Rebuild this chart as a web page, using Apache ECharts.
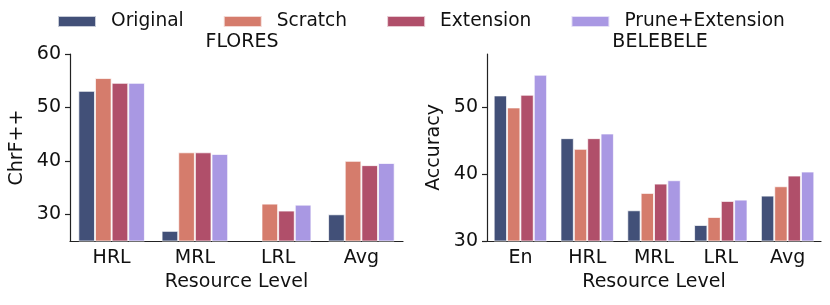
<!DOCTYPE html>
<html><head><meta charset="utf-8">
<script src="https://cdn.jsdelivr.net/npm/echarts@6/dist/echarts.min.js"></script>
<style>html,body{margin:0;padding:0;background:#fff}#c{width:830px;height:305px}</style>
</head><body><div id="c"></div>
<script>
const seriesNames = ['Original', 'Scratch', 'Extension', 'Prune+Extension'];
const colors = ['#425078', '#d57c6c', '#b04f6a', '#a998e3'];

const floresCategories = ['HRL', 'MRL', 'LRL', 'Avg'];
const floresOriginal = [53.1, 26.9, null, 30.0];
const floresScratch = [55.5, 41.6, 32.0, 40.0];
const floresExtension = [54.6, 41.6, 30.7, 39.2];
const floresPrune = [54.6, 41.3, 31.8, 39.6];
const floresTicks = [30, 40, 50, 60];

const beleCategories = ['En', 'HRL', 'MRL', 'LRL', 'Avg'];
const beleOriginal = [51.8, 45.4, 34.6, 32.4, 36.8];
const beleScratch = [50.0, 43.8, 37.2, 33.6, 38.2];
const beleExtension = [51.9, 45.4, 38.6, 36.0, 39.8];
const belePrune = [54.9, 46.1, 39.1, 36.2, 40.4];
const beleTicks = [30, 40, 50];

const floresData = [floresOriginal, floresScratch, floresExtension, floresPrune];
const beleData = [beleOriginal, beleScratch, beleExtension, belePrune];

const FONT = 'DejaVu Sans';
const FS = 19;
const axisLineStyle = {color: '#222', width: 1.2};

function xAxis(gi, cats) {
  return {
    type: 'category', gridIndex: gi, data: cats,
    name: 'Resource Level', nameLocation: 'middle', nameGap: 30,
    nameTextStyle: {fontFamily: FONT, fontSize: FS, color: '#111'},
    axisLine: {lineStyle: axisLineStyle},
    axisTick: {alignWithLabel: true, length: 5, lineStyle: axisLineStyle},
    axisLabel: {fontFamily: FONT, fontSize: FS, color: '#111', margin: 8}
  };
}
function yAxis(gi, name, min, max, ticks) {
  return {
    type: 'value', gridIndex: gi, min: min, max: max,
    name: name, nameLocation: 'middle', nameGap: 43,
    nameTextStyle: {fontFamily: FONT, fontSize: FS, color: '#111'},
    axisLine: {show: true, lineStyle: axisLineStyle},
    axisTick: {show: true, length: 5, lineStyle: axisLineStyle, customValues: ticks},
    axisLabel: {fontFamily: FONT, fontSize: FS, color: '#111', margin: 9, customValues: ticks},
    splitLine: {show: false}
  };
}

const series = [];
[floresData, beleData].forEach((set, gi) => {
  set.forEach((vals, i) => {
    series.push({
      type: 'bar', name: seriesNames[i], xAxisIndex: gi, yAxisIndex: gi,
      data: vals, barGap: '0%', barCategoryGap: '20%',
      itemStyle: {color: colors[i], borderColor: 'rgba(255,255,255,0.7)', borderWidth: 1},
      emphasis: {disabled: true}
    });
  });
});

const chart = echarts.init(document.getElementById('c'), null, {renderer: 'canvas'});
chart.setOption({
  animation: false,
  backgroundColor: '#fff',
  textStyle: {fontFamily: FONT},
  legend: {
    data: seriesNames, left: 52, top: 7, icon: 'rect',
    itemWidth: 38, itemHeight: 11, itemGap: 39,
    textStyle: {fontFamily: FONT, fontSize: 18.6, color: '#111', padding: [0, 0, 0, 10]}
  },
  title: [
    {text: 'FLORES', left: 237, top: 28, textAlign: 'center', textStyle: {fontFamily: FONT, fontSize: FS, fontWeight: 'normal', color: '#111'}},
    {text: 'BELEBELE', left: 655, top: 28, textAlign: 'center', textStyle: {fontFamily: FONT, fontSize: FS, fontWeight: 'normal', color: '#111'}}
  ],
  grid: [
    {left: 70, right: 427, top: 54, bottom: 64},
    {left: 487, right: 9, top: 54, bottom: 64}
  ],
  xAxis: [xAxis(0, floresCategories), xAxis(1, beleCategories)],
  yAxis: [yAxis(0, 'ChrF++', 25, 60, floresTicks), yAxis(1, 'Accuracy', 30, 58, beleTicks)],
  series: series
});
</script></body></html>
